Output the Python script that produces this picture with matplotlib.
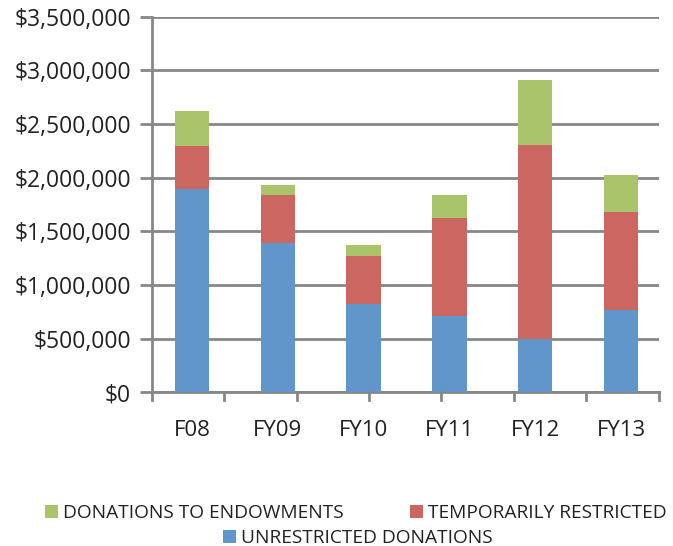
import matplotlib
matplotlib.use("Agg")
import matplotlib.pyplot as plt
from matplotlib.ticker import FuncFormatter
from matplotlib.patches import Rectangle
import numpy as np

plt.rcParams["font.family"] = ["Open Sans", "DejaVu Sans"]

# --- data ---
years        = ["F08", "FY09", "FY10", "FY11", "FY12", "FY13"]
unrestricted = [1894000, 1390000, 822000, 713000, 496000, 769000]
temp_restr   = [403000, 448000, 447000, 910000, 1808000, 910000]
endowments   = [324000, 93000, 103000, 215000, 606000, 345000]
series_names = ["DONATIONS TO ENDOWMENTS", "TEMPORARILY RESTRICTED", "UNRESTRICTED DONATIONS"]

C_BLUE  = "#6096C9"
C_RED   = "#CC6660"
C_GREEN = "#AAC46B"
C_GRID  = "#878787"
C_TEXT  = "#222222"

W, H = 673, 546
fig = plt.figure(figsize=(W / 100, H / 100), dpi=100)
ax = fig.add_axes([0.2254, 0.2817, 0.7534, 0.6877])

x = np.arange(len(years))
w = 0.40
un = np.array(unrestricted)
tr = np.array(temp_restr)
en = np.array(endowments)

ax.bar(x, un, w, color=C_BLUE, zorder=3)
ax.bar(x, tr, w, bottom=un, color=C_RED, zorder=3)
ax.bar(x, en, w, bottom=un + tr, color=C_GREEN, zorder=3)

ax.set_xlim(-0.47, 5.44)
ax.set_ylim(0, 3500000)
ax.set_yticks(np.arange(0, 3500001, 500000))
ax.yaxis.set_major_formatter(FuncFormatter(lambda v, p: f"${v:,.0f}"))
ax.grid(axis="y", color=C_GRID, linewidth=2, zorder=1)

# category labels under bars, tick marks spread evenly like the original
ax.set_xticks(x)
ax.set_xticklabels(years)
ax.tick_params(axis="x", length=0, pad=20, labelsize=16, labelcolor=C_TEXT)
lo, hi = ax.get_xlim()
for t in np.linspace(lo, hi, 8):
    ax.plot([t, t], [0, -0.02], transform=ax.get_xaxis_transform(),
            color=C_GRID, linewidth=2, clip_on=False, zorder=4)

ax.tick_params(axis="y", length=9, width=2, color=C_GRID, pad=6,
               labelsize=16.5, labelcolor=C_TEXT)

for s in ["top", "right"]:
    ax.spines[s].set_visible(False)
ax.spines["left"].set_color(C_GRID)
ax.spines["left"].set_linewidth(2)
ax.spines["bottom"].set_color(C_GRID)
ax.spines["bottom"].set_linewidth(2)

# legend drawn by hand: two entries on the first row, one centred below
# (square left x, row centre y) in pixels from top-left
leg_pos = [(45, 511), (410, 511), (223, 536)]
leg_col = [C_GREEN, C_RED, C_BLUE]
sq = 13
for (px, py), col, name in zip(leg_pos, leg_col, series_names):
    fig.add_artist(Rectangle((px / W, 1 - (py + sq / 2) / H), sq / W, sq / H,
                             transform=fig.transFigure, color=col, lw=0))
    fig.text((px + sq + 5) / W, 1 - py / H, name, fontsize=13.8, color=C_TEXT,
             ha="left", va="center_baseline")

fig.savefig("out.png", dpi=100)
